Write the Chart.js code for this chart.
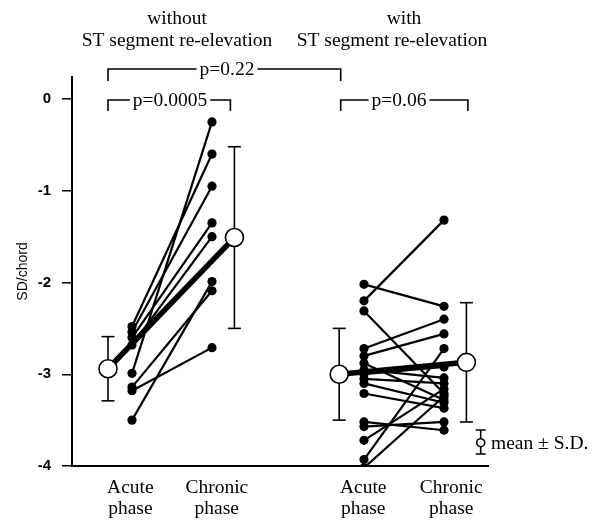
<!DOCTYPE html>
<html><head><meta charset="utf-8">
<script src="https://cdn.jsdelivr.net/npm/chart.js@4.4.0/dist/chart.umd.min.js"></script>
<style>html,body{margin:0;padding:0;background:#fff}#wrap{width:597px;height:523px}</style>
</head><body><div id="wrap"><canvas id="c" width="597" height="523"></canvas></div>
<script>
// ---- data ----
const phaseLabels = [['Acute','phase'],['Chronic','phase'],['Acute','phase'],['Chronic','phase']];
const phasePos = [1, 2, 3.9, 4.9];          // acute/chronic (without), acute/chronic (with)
const labelPos = [0.98, 2.06, 3.89, 4.99];
const meanPos = [0.7, 2.28, 3.59, 5.18];
const yTicks = [0, -1, -2, -3, -4];
const leftAcute   = [-2.48, -2.54, -2.60, -2.68, -2.99, -3.14, -3.18, -3.50];
const leftChronic = [-0.60, -0.95, -1.35, -1.50, -0.25, -2.09, -2.71, -1.99];
const rightAcute   = [-2.02, -2.20, -2.31, -2.72, -2.80, -2.88, -2.95, -3.00, -3.05, -3.10, -3.21, -3.52, -3.57, -3.72, -3.93, -4.02];
const rightChronic = [-2.26, -1.32, -3.21, -2.40, -2.56, -3.28, -3.04, -2.92, -3.10, -3.31, -3.37, -3.61, -3.52, -3.16, -2.72, -3.24];
const means = [-2.94, -1.51, -3.00, -2.87];
const sds   = [0.35, 0.99, 0.50, 0.65];
const groupTitles = [['without','ST segment re-elevation'],['with','ST segment re-elevation']];
const pTexts = ['p=0.22', 'p=0.0005', 'p=0.06'];
const legendText = 'mean \u00b1 S.D.';

const SERIF = '"Liberation Serif","DejaVu Serif",serif';
const SANS = '"Liberation Sans",Arial,sans-serif';

const datasets = [];
function pairSets(ac, ch, xa, xc) {
  ac.forEach((a, i) => {
    datasets.push({
      type: 'line',
      data: [{x: xa, y: a}, {x: xc, y: ch[i]}],
      borderColor: '#000', borderWidth: 2.2,
      pointRadius: 4.6, pointBackgroundColor: '#000', pointBorderWidth: 0,
      order: 3
    });
  });
}
pairSets(leftAcute, leftChronic, phasePos[0], phasePos[1]);
pairSets(rightAcute, rightChronic, phasePos[2], phasePos[3]);
// mean lines
[[0,1],[2,3]].forEach(([a,b]) => {
  datasets.push({
    type: 'line',
    data: [{x: meanPos[a], y: means[a]}, {x: meanPos[b], y: means[b]}],
    borderColor: '#000', borderWidth: 5.5, pointRadius: 0, order: 2
  });
});
// error bars
means.forEach((m, k) => {
  datasets.push({
    type: 'line',
    data: [{x: meanPos[k], y: m + sds[k]}, {x: meanPos[k], y: m - sds[k]}],
    borderColor: '#000', borderWidth: 1.6,
    pointStyle: 'line', pointRadius: 6.5, pointBorderWidth: 1.6, pointBorderColor: '#000',
    order: 2
  });
});
// mean circles
datasets.push({
  type: 'scatter',
  data: means.map((m, k) => ({x: meanPos[k], y: m})),
  pointRadius: 9, backgroundColor: '#fff', borderColor: '#000', borderWidth: 1.6,
  order: 0
});

const annot = {
  id: 'annot',
  afterDraw(chart) {
    const ctx = chart.ctx;
    const xs = chart.scales.x;
    ctx.save();
    ctx.fillStyle = '#000';
    ctx.strokeStyle = '#000';
    ctx.lineWidth = 1.6;
    ctx.font = '19.5px ' + SERIF;
    ctx.textAlign = 'center';
    ctx.textBaseline = 'middle';
    // group titles
    ctx.fillText(groupTitles[0][0], 177, 19);
    ctx.fillText(groupTitles[0][1], 177, 41);
    ctx.fillText(groupTitles[1][0], 404, 19);
    ctx.fillText(groupTitles[1][1], 392, 41);
    // brackets
    const m0 = xs.getPixelForValue(meanPos[0]);
    const m1 = xs.getPixelForValue(meanPos[1]) - 4;
    const m2 = xs.getPixelForValue(meanPos[2]) + 1.5;
    const m3 = xs.getPixelForValue(meanPos[3]) + 1.5;
    function bracket(x1, x2, y, drop, text, tx) {
      const w = ctx.measureText(text).width;
      ctx.beginPath();
      ctx.moveTo(x1, y + drop); ctx.lineTo(x1, y); ctx.lineTo(tx - w/2 - 3, y);
      ctx.moveTo(tx + w/2 + 3, y); ctx.lineTo(x2, y); ctx.lineTo(x2, y + drop);
      ctx.stroke();
      ctx.fillText(text, tx, y + 1);
    }
    bracket(m0, m2, 69, 12, pTexts[0], 227);
    bracket(m0, m1, 100, 11, pTexts[1], 170);
    bracket(m2, m3, 100, 11, pTexts[2], 399);
    // legend
    const lx = 480.7, ly = 442.7;
    ctx.beginPath();
    ctx.moveTo(lx, 430); ctx.lineTo(lx, 454);
    ctx.moveTo(lx - 5, 430); ctx.lineTo(lx + 5, 430);
    ctx.moveTo(lx - 5, 454); ctx.lineTo(lx + 5, 454);
    ctx.stroke();
    ctx.beginPath();
    ctx.arc(lx, ly, 4, 0, Math.PI * 2);
    ctx.fillStyle = '#fff'; ctx.fill(); ctx.stroke();
    ctx.fillStyle = '#000';
    ctx.textAlign = 'left';
    ctx.fillText(legendText, 491, ly + 1);
    ctx.restore();
  }
};

new Chart(document.getElementById('c'), {
  type: 'scatter',
  data: { datasets },
  options: {
    responsive: false, animation: false, devicePixelRatio: 1,
    layout: { padding: { top: 77, right: 109, left: 0, bottom: 0 } },
    plugins: { legend: { display: false }, tooltip: { enabled: false } },
    scales: {
      x: {
        type: 'linear', min: 0.25, max: 5.45,
        afterFit(s) { s.height = 57; },
        afterBuildTicks(s) { s.ticks = labelPos.map(v => ({value: v})); },
        grid: { display: true, drawOnChartArea: false, drawTicks: false },
        border: { display: true, color: '#000', width: 2 },
        ticks: {
          color: '#000', padding: 12, maxRotation: 0, autoSkip: false,
          font: { family: SERIF, size: 19.5, lineHeight: 1.05 },
          callback: (v, i) => phaseLabels[i]
        }
      },
      y: {
        type: 'linear', min: -4, max: 0.24,
        afterFit(s) { s.width = 72; },
        afterBuildTicks(s) { s.ticks = yTicks.map(v => ({value: v})); },
        grid: { display: true, drawOnChartArea: false, drawTicks: true, tickLength: 10, color: '#000', lineWidth: 1.5 },
        border: { display: true, color: '#000', width: 2 },
        ticks: { color: '#000', padding: 11, font: { family: SANS, size: 15, weight: 'bold' }, callback: v => String(v) },
        title: { display: true, text: 'SD/chord', color: '#000', font: { family: SANS, size: 14 }, padding: { top: 15, bottom: 0 } }
      }
    }
  },
  plugins: [annot]
});
</script></body></html>
